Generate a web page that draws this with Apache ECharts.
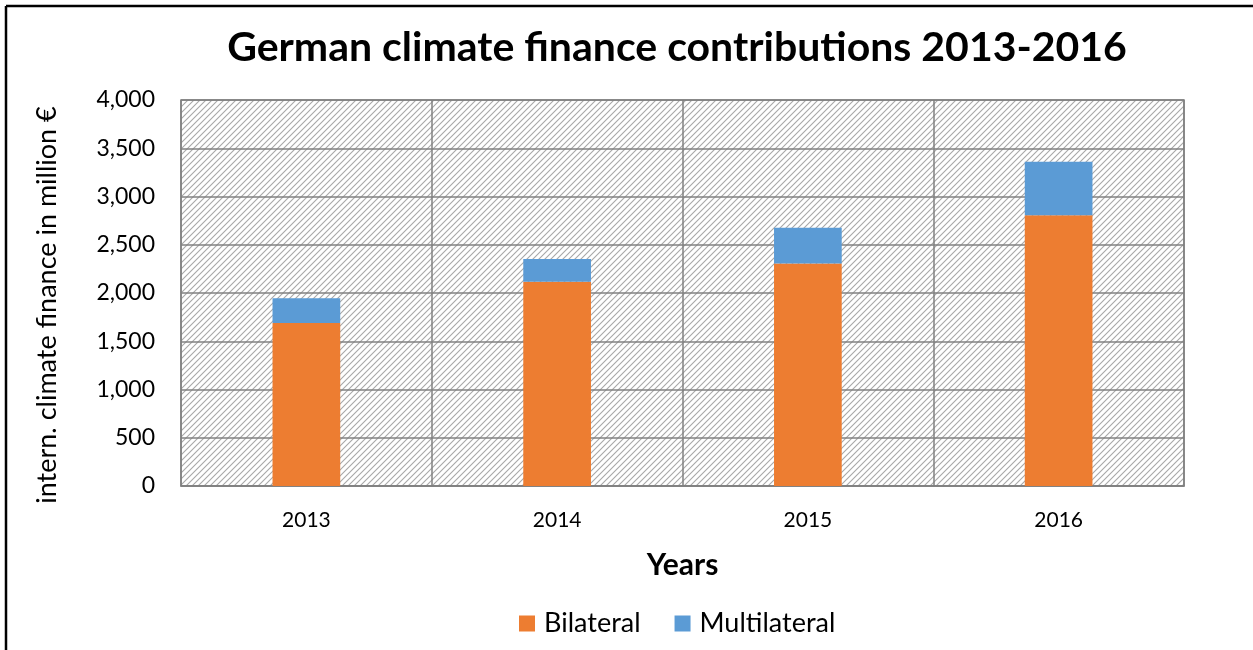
<!DOCTYPE html>
<html><head><meta charset="utf-8">
<script src="https://cdn.jsdelivr.net/npm/echarts@6/dist/echarts.min.js"></script>
<style>html,body{margin:0;padding:0;background:#fff}#c{width:1253px;height:650px}</style>
</head><body><div id="c"></div>
<script>
const categories = ['2013', '2014', '2015', '2016'];
const bilateral = [1690, 2117, 2305, 2805];
const multilateral = [255, 235, 372, 555];
const yTicks = { min: 0, max: 4000, interval: 500 };

const tile = document.createElement('canvas');
tile.width = 6; tile.height = 6;
const tc = tile.getContext('2d');
tc.fillStyle = '#ffffff'; tc.fillRect(0, 0, 6, 6);
tc.strokeStyle = '#a8a8a8'; tc.lineWidth = 1.1;
tc.beginPath();
tc.moveTo(-1, 7); tc.lineTo(7, -1);
tc.moveTo(-4, 4); tc.lineTo(4, -4);
tc.moveTo(2, 10); tc.lineTo(10, 2);
tc.stroke();

const FONT = 'Lato';
const chart = echarts.init(document.getElementById('c'));
chart.setOption({
  animation: false,
  textStyle: { fontFamily: FONT },
  title: {
    text: 'German climate finance contributions 2013-2016',
    left: 672, top: 22, textAlign: 'center',
    textStyle: { fontFamily: FONT, fontWeight: 'bold', fontSize: 41, color: '#000' }
  },
  graphic: [
    { type: 'line', shape: { x1: 6, y1: 6, x2: 1253, y2: 6 }, style: { stroke: '#000', lineWidth: 2.5 } },
    { type: 'line', shape: { x1: 6, y1: 6, x2: 6, y2: 650 }, style: { stroke: '#000', lineWidth: 2.5 } }
  ],
  legend: {
    bottom: 8, left: 514, itemWidth: 16, itemHeight: 16, itemGap: 34,
    icon: 'rect',
    textStyle: { fontFamily: FONT, fontSize: 27, color: '#000', padding: [0, 0, 0, 4] },
    data: ['Bilateral', 'Multilateral']
  },
  grid: {
    left: 181, right: 69, top: 100, bottom: 164,
    show: true, backgroundColor: { image: tile, repeat: 'repeat' },
    borderColor: '#808080', borderWidth: 1.5
  },
  xAxis: {
    type: 'category', data: categories,
    name: 'Years', nameLocation: 'middle', nameGap: 64,
    nameTextStyle: { fontFamily: FONT, fontWeight: 'bold', fontSize: 30, color: '#000' },
    axisLine: { lineStyle: { color: '#808080', width: 1.5 } },
    axisTick: { show: false },
    axisLabel: { fontFamily: FONT, fontSize: 21, color: '#000', margin: 24 },
    splitLine: { show: true, lineStyle: { color: '#808080', width: 1.5 } }
  },
  yAxis: {
    type: 'value', min: yTicks.min, max: yTicks.max, interval: yTicks.interval,
    name: 'intern. climate finance in million €', nameLocation: 'middle', nameGap: 120,
    nameTextStyle: { fontFamily: FONT, fontSize: 27, color: '#000', padding: [0, 24, 0, 0] },
    axisLine: { show: false }, axisTick: { show: false },
    axisLabel: { fontFamily: FONT, fontSize: 23, color: '#000', margin: 26,
      formatter: v => v.toLocaleString('en-US') },
    splitLine: { show: true, lineStyle: { color: '#808080', width: 1.5 } }
  },
  series: [
    { name: 'Bilateral', type: 'bar', stack: 't', data: bilateral, barWidth: '27%',
      itemStyle: { color: '#ED7D31' } },
    { name: 'Multilateral', type: 'bar', stack: 't', data: multilateral, barWidth: '27%',
      itemStyle: { color: '#5B9BD5' } }
  ]
});
</script></body></html>
